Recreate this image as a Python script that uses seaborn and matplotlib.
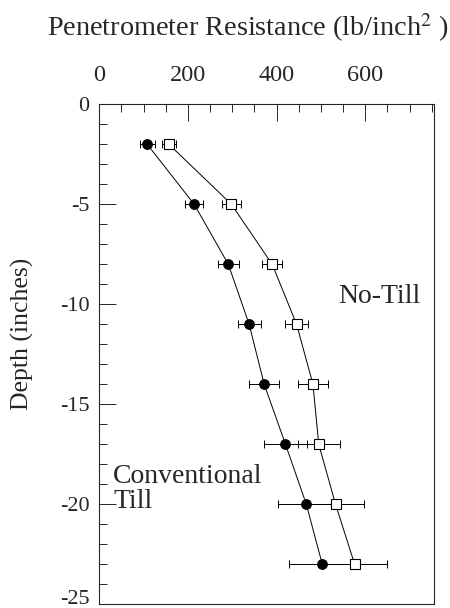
import matplotlib
matplotlib.use("Agg")
import matplotlib.pyplot as plt
import numpy as np
import pandas as pd
import seaborn as sns

# depth of each measurement (inches, negative = below surface)
depth = [-2, -5, -8, -11, -14, -17, -20, -23]

# conventional till (filled circles)
conv_res = [108, 214, 291, 338, 372, 420, 467, 503]
conv_err = [17, 21, 23, 26, 34, 48, 63, 75]

# no-till (open squares)
notill_res = [157, 298, 390, 445, 482, 495, 533, 576]
notill_err = [15, 21, 23, 26, 34, 47, 64, 73]

x_ticks = [0, 200, 400, 600]
y_ticks = [0, -5, -10, -15, -20, -25]

sns.set_style("ticks")
plt.rcParams['font.family'] = ['Liberation Serif', 'DejaVu Serif']
plt.rcParams['mathtext.fontset'] = 'stix'
plt.rcParams['axes.unicode_minus'] = False

df = pd.DataFrame({'Depth': depth * 2,
                   'Resistance': conv_res + notill_res,
                   'Tillage': ['Conventional'] * len(depth) + ['No-Till'] * len(depth)})

fig = plt.figure(figsize=(4.5, 6.08), dpi=100)
ax = fig.add_axes([0.2207, 0.0061, 0.7437, 0.8224])

# error bars first so markers sit on top
ax.errorbar(conv_res, depth, xerr=conv_err, fmt='none', ecolor='black',
            elinewidth=0.7, capsize=3, capthick=0.7, zorder=1)
ax.errorbar(notill_res, depth, xerr=notill_err, fmt='none', ecolor='black',
            elinewidth=0.7, capsize=3, capthick=0.7, zorder=1)

sns.lineplot(data=df[df.Tillage == 'Conventional'], x='Resistance', y='Depth',
             orient='y', sort=False, color='black', linewidth=0.7,
             marker='o', markersize=7, markerfacecolor='black',
             markeredgecolor='black', ax=ax, zorder=3)
sns.lineplot(data=df[df.Tillage == 'No-Till'], x='Resistance', y='Depth',
             orient='y', sort=False, color='black', linewidth=0.7,
             marker='s', markersize=6.5, markerfacecolor='white',
             markeredgecolor='black', markeredgewidth=0.8, ax=ax, zorder=3)

ax.set_xlim(0, 755)
ax.set_ylim(-25, 0)
ax.set_xticks(x_ticks)
ax.set_xticks(np.arange(0, 751, 50), minor=True)
ax.set_yticks(y_ticks)
ax.set_yticks(np.arange(-25, 1, 1), minor=True)

ax.xaxis.tick_top()
ax.tick_params(axis='x', which='both', direction='in', top=True, bottom=False,
               labelsize=17.5, pad=13, width=0.7)
ax.tick_params(axis='y', which='both', direction='in', left=True, right=False,
               labelsize=16, pad=7, width=0.7)
ax.tick_params(which='major', length=12)
ax.tick_params(which='minor', length=5.5)
for s in ax.spines.values():
    s.set_linewidth(0.8)

# the bottom label sits right on the figure edge, keep it inside
for lab in ax.get_yticklabels():
    if lab.get_text() == '-25':
        lab.set_va('baseline')

ax.set_xlabel('')
ax.set_ylabel('')
fig.text(22 / 450, 1 - 334 / 608, 'Depth (inches)', fontsize=18.5,
         rotation=90, ha='center', va='center')

ax.text(538, -9.95, 'No-Till', fontsize=20, va='baseline', ha='left')
ax.text(31, -20.2, 'Conventional\nTill', fontsize=20, va='baseline', ha='left',
        linespacing=1.0)

fig.text(47 / 450, 1 - 36 / 608, r'Penetrometer Resistance (lb/inch$^2$ )',
         fontsize=20.3, ha='left', va='baseline')

fig.savefig('out.png', dpi=100)
